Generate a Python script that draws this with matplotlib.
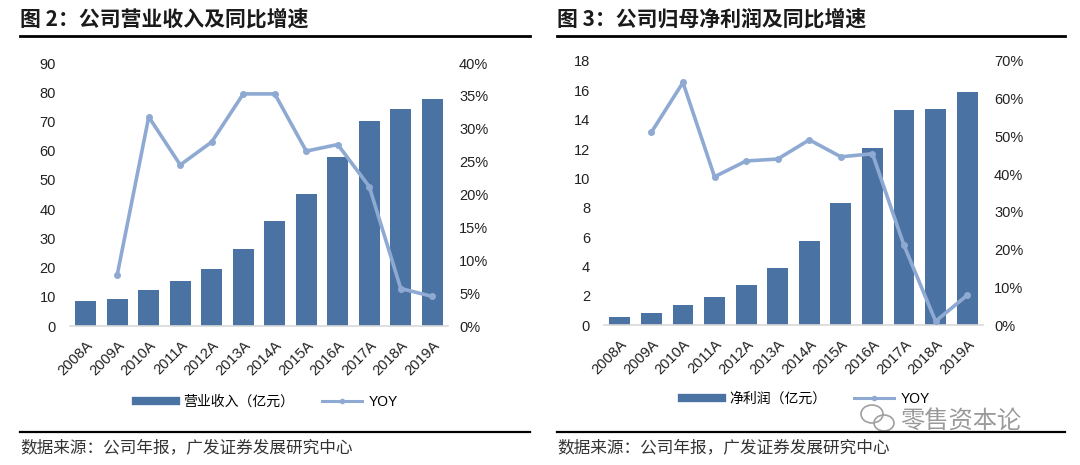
import matplotlib
matplotlib.use("Agg")
import numpy as np
import matplotlib.pyplot as plt
from matplotlib.lines import Line2D
from matplotlib.patches import Ellipse

plt.rcParams['font.family'] = ['Liberation Sans', 'Noto Sans CJK SC', 'DejaVu Sans']

years = ['2008A', '2009A', '2010A', '2011A', '2012A', '2013A',
         '2014A', '2015A', '2016A', '2017A', '2018A', '2019A']

# 图2 营业收入 (亿元) and YOY (%)
revenue = [8.6, 9.2, 12.3, 15.3, 19.5, 26.4, 35.9, 45.3, 58.0, 70.2, 74.2, 77.7]
revenue_yoy = [np.nan, 7.8, 31.8, 24.5, 28.0, 35.3, 35.3, 26.6, 27.6, 21.2, 5.7, 4.5]

# 图3 归母净利润 (亿元) and YOY (%)
profit = [0.57, 0.84, 1.36, 1.90, 2.70, 3.88, 5.76, 8.32, 12.09, 14.63, 14.76, 15.92]
profit_yoy = [np.nan, 51.1, 64.3, 39.3, 43.5, 44.0, 49.1, 44.6, 45.4, 21.1, 1.0, 7.9]

BAR = '#4A72A2'
LINE = '#8FAAD2'
W, H = 1080, 465

fig = plt.figure(figsize=(W / 100, H / 100), dpi=100)
fig.patch.set_facecolor('white')


def px_axes(x0, x1, y_top, y_bot):
    return fig.add_axes([x0 / W, 1 - y_bot / H, (x1 - x0) / W, (y_bot - y_top) / H])


def panel(x0, x1, y_top, y_bot, bars, yoy, ymax, ystep, rmax, rstep,
          title, tx, lx0, lx1, bar_label, leg_x, leg_y):
    ax = px_axes(x0, x1, y_top, y_bot)
    x = np.arange(len(years))
    ax.bar(x, bars, width=0.66, color=BAR, zorder=2)
    ax.set_xlim(-0.5, len(years) - 0.5)
    ax.set_ylim(0, ymax)
    ax.set_yticks(np.arange(0, ymax + 0.001, ystep))
    ax.set_xticks(x)
    ax.set_xticklabels(years, rotation=45, ha='right', va='top',
                       rotation_mode='anchor', fontsize=9.5, color='#222222')
    for s in ['top', 'right', 'left']:
        ax.spines[s].set_visible(False)
    ax.spines['bottom'].set_color('#D9D9D9')
    ax.spines['bottom'].set_linewidth(1.2)
    ax.tick_params(axis='both', length=0, labelsize=10.5, colors='#222222')
    ax.tick_params(axis='y', pad=10)
    ax.tick_params(axis='x', pad=9)

    ax2 = ax.twinx()
    ax2.plot(x, yoy, color=LINE, lw=2.6, marker='o', markersize=4, zorder=3)
    ax2.set_ylim(0, rmax)
    ticks = np.arange(0, rmax + 0.001, rstep)
    ax2.set_yticks(ticks)
    ax2.set_yticklabels([f'{int(t)}%' for t in ticks])
    for s in ax2.spines.values():
        s.set_visible(False)
    ax2.tick_params(axis='y', length=0, labelsize=10.5, colors='#222222', pad=8)

    fig.text(tx / W, 1 - 19 / H, title, fontsize=15, fontweight='bold',
             family=['Noto Sans CJK SC', 'DejaVu Sans'], va='center', ha='left',
             color='#1a1a1a')
    fig.add_artist(Line2D([lx0 / W, lx1 / W], [1 - 36 / H, 1 - 36 / H],
                          color='black', lw=2))
    fig.add_artist(Line2D([lx0 / W, lx1 / W], [1 - 432 / H, 1 - 432 / H],
                          color='black', lw=1.6))
    fig.text(tx / W, 1 - 448 / H, '数据来源：公司年报，广发证券发展研究中心', fontsize=12,
             family=['Noto Sans CJK SC', 'DejaVu Sans'], va='center', ha='left',
             color='#333333')

    handles = [Line2D([], [], color=BAR, lw=6),
               Line2D([], [], color=LINE, lw=2.2, marker='o', markersize=3)]
    fig.legend(handles, [bar_label, 'YOY'], loc='center',
               bbox_to_anchor=(leg_x / W, 1 - leg_y / H), ncol=2, frameon=False,
               handlelength=2.9, columnspacing=2.0, handletextpad=0.5,
               prop={'size': 10, 'family': ['Liberation Sans', 'Noto Sans CJK SC']})
    return ax


panel(70, 448, 63, 326, revenue, revenue_yoy, 90, 10, 40, 5,
      '图 2：公司营业收入及同比增速', 20, 20, 530, '营业收入（亿元）', 267, 402)
panel(604, 983, 61, 325, profit, profit_yoy, 18, 2, 70, 10,
      '图 3：公司归母净利润及同比增速', 557, 557, 1065, '净利润（亿元）', 806, 399)

# watermark
fig.text(900 / W, 1 - 421 / H, '零售资本论', fontsize=17.5, color='#9a9a9a',
         family=['Noto Sans CJK SC'], va='center', ha='left')
fig.add_artist(Ellipse((872 / W, 1 - 414 / H), 22 / W, 18 / H, fill=False,
                       ec='#a0a0a0', lw=1.2))
fig.add_artist(Ellipse((884 / W, 1 - 423 / H), 20 / W, 16 / H, fill=False,
                       ec='#a0a0a0', lw=1.2, facecolor='white'))

fig.savefig('out.png', dpi=100, facecolor='white')
